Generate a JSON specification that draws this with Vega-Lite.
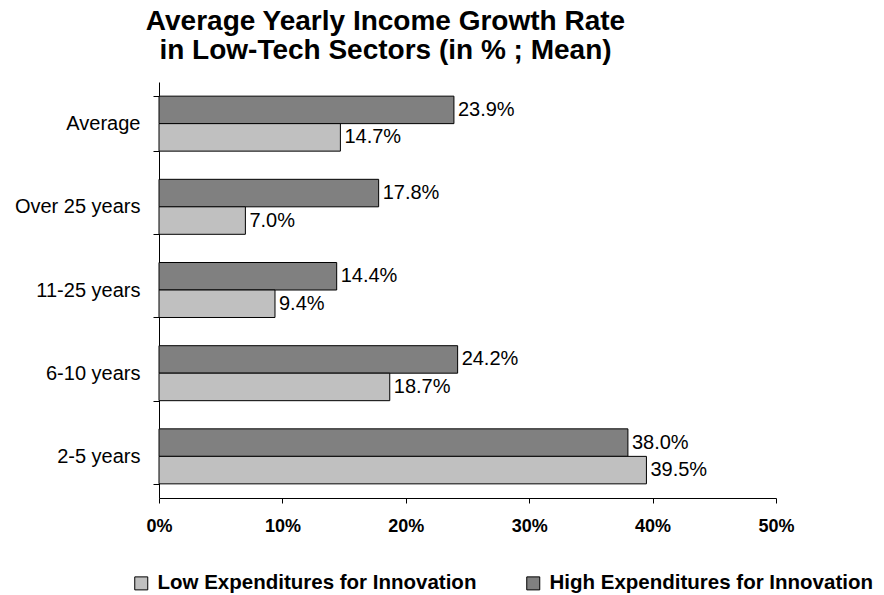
{
  "$schema": "https://vega.github.io/schema/vega-lite/v6.json",
  "width": 617,
  "height": 416,
  "autosize": {"type": "none"},
  "padding": {"left": 159, "top": 82, "right": 108, "bottom": 97},
  "background": "white",
  "config": {
    "font": "Liberation Sans",
    "view": {"stroke": null},
    "axis": {"domainColor": "black", "tickColor": "black", "labelColor": "black", "grid": false, "titleColor": "black"}
  },
  "title": {
    "text": ["Average Yearly Income Growth Rate", "in Low-Tech Sectors (in % ; Mean)"],
    "font": "Liberation Sans",
    "fontSize": 28,
    "fontWeight": "bold",
    "color": "black",
    "lineHeight": 29,
    "anchor": "middle",
    "dx": -82,
    "offset": 7
  },
  "data": {
    "values": [
      {"cat": "Average", "series": "High Expenditures for Innovation", "value": 0.239},
      {"cat": "Average", "series": "Low Expenditures for Innovation", "value": 0.147},
      {"cat": "Over 25 years", "series": "High Expenditures for Innovation", "value": 0.178},
      {"cat": "Over 25 years", "series": "Low Expenditures for Innovation", "value": 0.070},
      {"cat": "11-25 years", "series": "High Expenditures for Innovation", "value": 0.144},
      {"cat": "11-25 years", "series": "Low Expenditures for Innovation", "value": 0.094},
      {"cat": "6-10 years", "series": "High Expenditures for Innovation", "value": 0.242},
      {"cat": "6-10 years", "series": "Low Expenditures for Innovation", "value": 0.187},
      {"cat": "2-5 years", "series": "High Expenditures for Innovation", "value": 0.380},
      {"cat": "2-5 years", "series": "Low Expenditures for Innovation", "value": 0.395}
    ]
  },
  "encoding": {
    "y": {
      "field": "cat",
      "type": "nominal",
      "sort": ["Average", "Over 25 years", "11-25 years", "6-10 years", "2-5 years"],
      "scale": {"paddingInner": 0.339, "paddingOuter": 0.17},
      "axis": {
        "title": null,
        "tickBand": "extent",
        "tickSize": 6,
        "labelPadding": 13,
        "labelFontSize": 20,
        "labelFont": "Liberation Sans",
        "domainWidth": 1,
        "tickWidth": 1
      }
    },
    "yOffset": {
      "field": "series",
      "type": "nominal",
      "sort": ["High Expenditures for Innovation", "Low Expenditures for Innovation"],
      "scale": {"paddingInner": 0, "paddingOuter": 0}
    },
    "x": {
      "field": "value",
      "type": "quantitative",
      "scale": {"domain": [0, 0.5], "nice": false},
      "axis": {
        "title": null,
        "values": [0, 0.1, 0.2, 0.3, 0.4, 0.5],
        "format": ".0%",
        "tickSize": 5,
        "labelPadding": 14,
        "labelFlush": false,
        "labelFontSize": 18,
        "labelFontWeight": "bold",
        "labelFont": "Liberation Sans"
      }
    }
  },
  "layer": [
    {
      "mark": {"type": "bar", "stroke": "black", "strokeWidth": 1},
      "encoding": {
        "color": {
          "field": "series",
          "type": "nominal",
          "sort": ["Low Expenditures for Innovation", "High Expenditures for Innovation"],
          "scale": {
            "domain": ["Low Expenditures for Innovation", "High Expenditures for Innovation"],
            "range": ["#C0C0C0", "#808080"]
          },
          "legend": {
            "title": null,
            "orient": "none",
            "direction": "horizontal",
            "legendX": -28,
            "legendY": 491,
            "padding": 0,
            "symbolType": "square",
            "symbolSize": 169,
            "symbolStrokeColor": "black",
            "symbolStrokeWidth": 1,
            "symbolOpacity": 1,
            "labelFontSize": 20.5,
            "labelFontWeight": "bold",
            "labelFont": "Liberation Sans",
            "labelColor": "black",
            "labelOffset": 6,
            "labelLimit": 500,
            "columnPadding": 46
          }
        }
      }
    },
    {
      "mark": {"type": "text", "align": "left", "baseline": "middle", "dx": 4, "fontSize": 20, "font": "Liberation Sans", "color": "black"},
      "encoding": {
        "text": {"field": "value", "type": "quantitative", "format": ".1%"}
      }
    }
  ]
}
